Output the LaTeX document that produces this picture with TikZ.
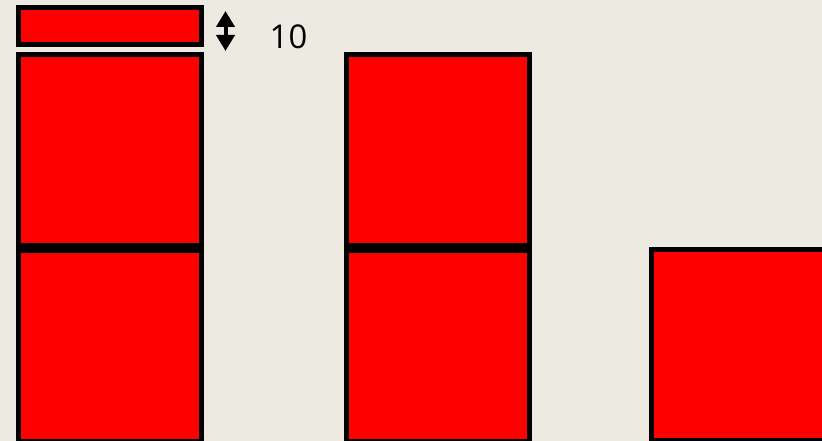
\documentclass[tikz,border=0pt]{standalone}
\usepackage{fontspec}
\setmainfont{Open Sans}
\definecolor{paper}{HTML}{EDEAE2}
\usetikzlibrary{arrows.meta}
\tikzset{
  block/.style={draw=black,fill=red,line width=5pt,inner sep=0pt,outer sep=0pt,
    minimum width=183pt,minimum height=191pt,anchor=north west},
  gauge/.style={line width=4pt,{Triangle[width=18pt,length=16pt]}-{Triangle[width=18pt,length=16pt]}}
}

\begin{document}
\begin{tikzpicture}[x=1pt,y=-1pt]
\useasboundingbox (0,0) rectangle (822,441);
\fill[paper] (0,0) rectangle (822,441);
\clip (0,0) rectangle (822,441);
\node[block,minimum height=37pt] (S) at (18.5,7.5) {};
\foreach \c/\x in {A/18.5,B/346.5} {
  \node[block] (\c1) at (\x,54.5) {};
  \node[block] (\c2) at (\x,250.5) {};
}
\node[block] (C2) at (651.5,249.5) {};
\coordinate (T) at (225.5,11);
\coordinate (D) at (225.5,51);
\draw[gauge] (T) -- (D);
\node[anchor=base,inner sep=0pt,font=\fontsize{32.8}{36}\selectfont] (L) at (288.5,49) {10};
\end{tikzpicture}
\end{document}
